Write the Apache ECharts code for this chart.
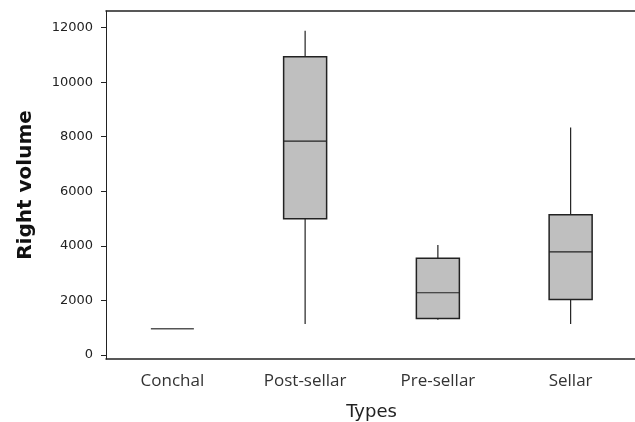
<!DOCTYPE html>
<html>
<head>
<meta charset="utf-8">
<script src="https://cdn.jsdelivr.net/npm/echarts@6/dist/echarts.min.js"></script>
<style>
html,body{margin:0;padding:0;background:#fff;}
#c{width:635px;height:422px;}
</style>
</head>
<body>
<div id="c"></div>
<script>
var categories = ['Conchal', 'Post-sellar', 'Pre-sellar', 'Sellar'];
var whiskerLow = [960, 1130, 1290, 1130];
var q1Values = [960, 4990, 1335, 2030];
var medianValues = [960, 7840, 2280, 3780];
var q3Values = [960, 10930, 3540, 5140];
var whiskerHigh = [960, 11890, 4030, 8340];
var yTicks = [0, 2000, 4000, 6000, 8000, 10000, 12000];

var boxData = categories.map(function (c, i) {
  return [i, whiskerLow[i], q1Values[i], medianValues[i], q3Values[i], whiskerHigh[i]];
});

var chart = echarts.init(document.getElementById('c'), null, {renderer: 'canvas'});
var lineColor = '#222';

chart.setOption({
  animation: false,
  backgroundColor: '#fff',
  grid: {left: 106, right: -2, top: 11, bottom: 63, show: false, containLabel: false, outerBoundsMode: 'none'},
  xAxis: [{
    type: 'category',
    data: categories,
    boundaryGap: true,
    name: 'Types',
    nameLocation: 'middle',
    nameGap: 44,
    nameTextStyle: {fontFamily: 'DejaVu Sans', fontSize: 18, color: '#222'},
    axisLine: {onZero: false, lineStyle: {color: lineColor, width: 1.5}},
    axisTick: {alignWithLabel: true, length: 4, lineStyle: {color: lineColor}},
    axisLabel: {margin: 14, fontFamily: 'Open Sans', fontSize: 17, color: '#333'},
    splitLine: {show: false}
  }, {
    type: 'category',
    data: categories,
    position: 'top',
    axisLine: {onZero: false, lineStyle: {color: lineColor, width: 1.5}},
    axisTick: {show: false},
    axisLabel: {show: false},
    splitLine: {show: false}
  }],
  yAxis: {
    type: 'value',
    min: -150,
    max: 12610,
    name: 'Right volume',
    nameLocation: 'middle',
    nameGap: 70,
    nameTextStyle: {fontFamily: 'DejaVu Sans', fontWeight: 'bold', fontSize: 20, color: '#111'},
    axisLine: {show: true, onZero: false, lineStyle: {color: lineColor, width: 1}},
    axisTick: {show: true, length: 5, lineStyle: {color: lineColor}, customValues: yTicks},
    axisLabel: {margin: 13, fontFamily: 'DejaVu Sans', fontSize: 13, color: '#222', customValues: yTicks,
      formatter: function (v) { return String(v); }},
    splitLine: {show: false}
  },
  series: [{
    type: 'custom',
    data: boxData,
    encode: {x: 0, y: [1, 2, 3, 4, 5]},
    renderItem: function (params, api) {
      var x = api.value(0);
      var lo = api.coord([x, api.value(1)]);
      var q1 = api.coord([x, api.value(2)]);
      var med = api.coord([x, api.value(3)]);
      var q3 = api.coord([x, api.value(4)]);
      var hi = api.coord([x, api.value(5)]);
      var half = 21.5;
      var cx = lo[0];
      var style = {stroke: lineColor, lineWidth: 1.2, fill: null};
      var children = [];
      var hasBox = q1[1] - q3[1] > 0.5;
      if (hi[1] < q3[1]) {
        children.push({type: 'line', shape: {x1: cx, y1: hi[1], x2: cx, y2: q3[1]}, style: style});
      }
      if (lo[1] > q1[1]) {
        children.push({type: 'line', shape: {x1: cx, y1: q1[1], x2: cx, y2: lo[1]}, style: style});
      }
      if (hasBox) {
        children.push({type: 'rect', shape: {x: cx - half, y: q3[1], width: half * 2, height: q1[1] - q3[1]},
          style: {fill: '#bfbfbf', stroke: lineColor, lineWidth: 1.5}});
      }
      children.push({type: 'line', shape: {x1: cx - half, y1: med[1], x2: cx + half, y2: med[1]},
        style: {stroke: hasBox ? lineColor : '#555', lineWidth: hasBox ? 1.2 : 1.5}});
      return {type: 'group', children: children};
    }
  }]
});
</script>
</body>
</html>
